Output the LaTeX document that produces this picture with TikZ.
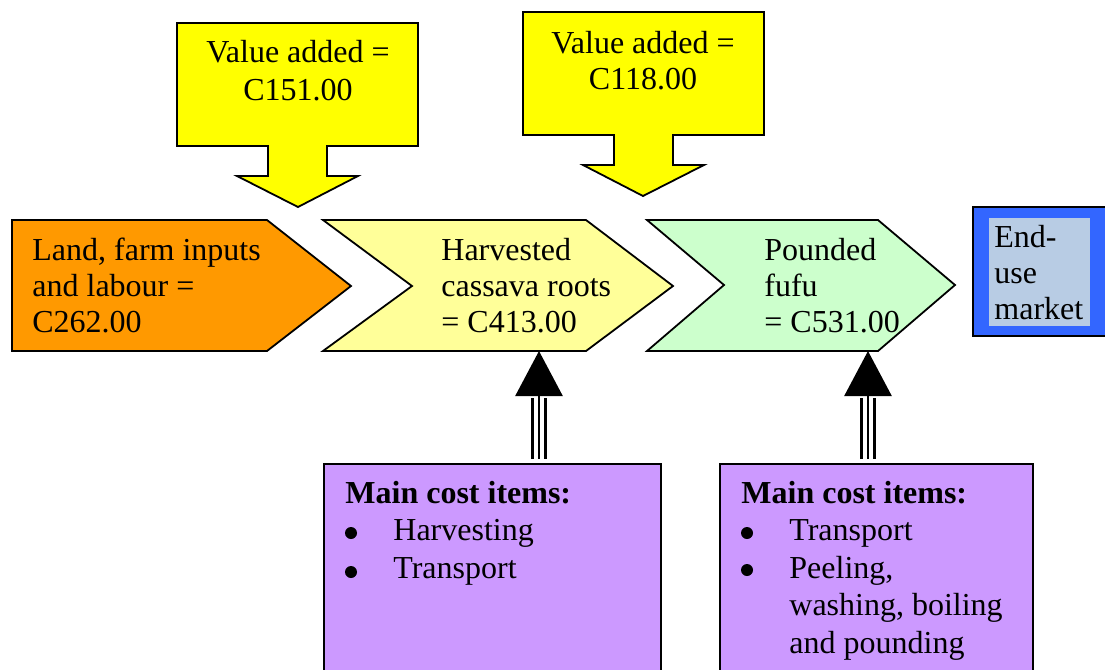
\documentclass[tikz,border=0pt]{standalone}
\usepackage{fontspec}
\setmainfont{Liberation Serif}
\usetikzlibrary{arrows.meta}

\definecolor{valueyellow}{HTML}{FFFF00}
\definecolor{inputorange}{HTML}{FF9900}
\definecolor{rootyellow}{HTML}{FFFF99}
\definecolor{fufugreen}{HTML}{CCFFCC}
\definecolor{marketblue}{HTML}{3366FF}
\definecolor{marketlight}{HTML}{B8CCE4}
\definecolor{costpurple}{HTML}{CC99FF}

\begin{document}
\begin{tikzpicture}[x=0.5pt,y=-0.5pt,
  outline/.style={draw=black, line width=0.9pt, line join=miter},
  txt/.style={inner sep=0pt, font=\fontsize{16}{18}\selectfont},
  costtxt/.style={inner sep=0pt, font=\fontsize{16}{18.75}\selectfont},
  costbox/.style={draw=black, line width=0.9pt, fill=costpurple, inner sep=0pt,
                  minimum height=112pt, anchor=north west},
  bulletdot/.style={fill=black},
  stripe/.style={line width=1.35pt, draw=black},
  stripetip/.style={-{Triangle[width=23.5pt,length=22.5pt]}},
]
\useasboundingbox (0,0) rectangle (1105,670);
\clip (0,0) rectangle (1105,670);

% value-added callouts pointing down onto the chain
\draw[outline, fill=valueyellow] (177,23) -- (418,23) -- (418,146) -- (327,146)
  -- (327,176) -- (358,176) -- (298,207) -- (237,176) -- (268,176) -- (268,146)
  -- (177,146) -- cycle;
\node[txt, font=\fontsize{16}{19}\selectfont, anchor=base] (va1) at (298,62)
  {\begin{tabular}[t]{@{}c@{}}Value added =\\C151.00\end{tabular}};

\draw[outline, fill=valueyellow] (523,12) -- (764,12) -- (764,135) -- (673,135)
  -- (673,165) -- (704,165) -- (643,196) -- (583,165) -- (614,165) -- (614,135)
  -- (523,135) -- cycle;
\node[txt, anchor=base] (va2) at (643,53)
  {\begin{tabular}[t]{@{}c@{}}Value added =\\C118.00\end{tabular}};

% the value chain
\draw[outline, fill=inputorange] (12,220) -- (267,220) -- (351,286) -- (267,351)
  -- (12,351) -- cycle;
\node[txt, anchor=base west] (inputs) at (32,260)
  {\begin{tabular}[t]{@{}l@{}}Land, farm inputs\\and labour =\\C262.00\end{tabular}};

\draw[outline, fill=rootyellow] (323,220) -- (586,220) -- (673,286) -- (586,351)
  -- (323,351) -- (412,286) -- cycle;
\node[txt, anchor=base west] (roots) at (441,260)
  {\begin{tabular}[t]{@{}l@{}}Harvested\\cassava roots\\= C413.00\end{tabular}};
\coordinate (rootsS) at (539,351);

\draw[outline, fill=fufugreen] (647,220) -- (878,220) -- (955,285) -- (878,351)
  -- (647,351) -- (724,285) -- cycle;
\node[txt, anchor=base west] (fufu) at (764,260)
  {\begin{tabular}[t]{@{}l@{}}Pounded\\fufu\\= C531.00\end{tabular}};
\coordinate (fufuS) at (868,351);

\draw[outline, fill=marketblue] (973,207) rectangle (1120,336);
\fill[marketlight] (989,218) rectangle (1090,326);
\node[txt, anchor=base west] (market) at (994,247)
  {\begin{tabular}[t]{@{}l@{}}End-\\use\\market\end{tabular}};

% cost boxes
\node[costbox, minimum width=168.5pt] (cost1) at (323,463) {};
\node[costtxt, anchor=base west] (cost1txt) at (345,503)
  {\begin{tabular}[t]{@{}l@{}}\textbf{Main cost items:}\\
   \hspace*{24pt}Harvesting\\
   \hspace*{24pt}Transport\end{tabular}};
\fill[bulletdot] (351,533) circle[radius=3pt];
\fill[bulletdot] (351,572) circle[radius=3pt];

\node[costbox, minimum width=156.5pt] (cost2) at (719,463) {};
\node[costtxt, anchor=base west] (cost2txt) at (741,503)
  {\begin{tabular}[t]{@{}l@{}}\textbf{Main cost items:}\\
   \hspace*{24pt}Transport\\
   \hspace*{24pt}Peeling,\\
   \hspace*{24pt}washing, boiling\\
   \hspace*{24pt}and pounding\end{tabular}};
\fill[bulletdot] (747,533) circle[radius=3pt];
\fill[bulletdot] (747,570) circle[radius=3pt];

% striped arrows from the cost boxes up to the chain
\coordinate (rootsHead) at (539,398);
\coordinate (fufuHead) at (868,398);
\draw[stripe, double=white, double distance=5pt, shorten <=2pt]
  (rootsS |- cost1.north) -- (rootsHead);
\draw[stripe, stripetip, shorten <=2pt] (rootsS |- cost1.north) -- (rootsS);
\draw[stripe, double=white, double distance=5pt, shorten <=2pt]
  (fufuS |- cost2.north) -- (fufuHead);
\draw[stripe, stripetip, shorten <=2pt] (fufuS |- cost2.north) -- (fufuS);
\end{tikzpicture}
\end{document}
